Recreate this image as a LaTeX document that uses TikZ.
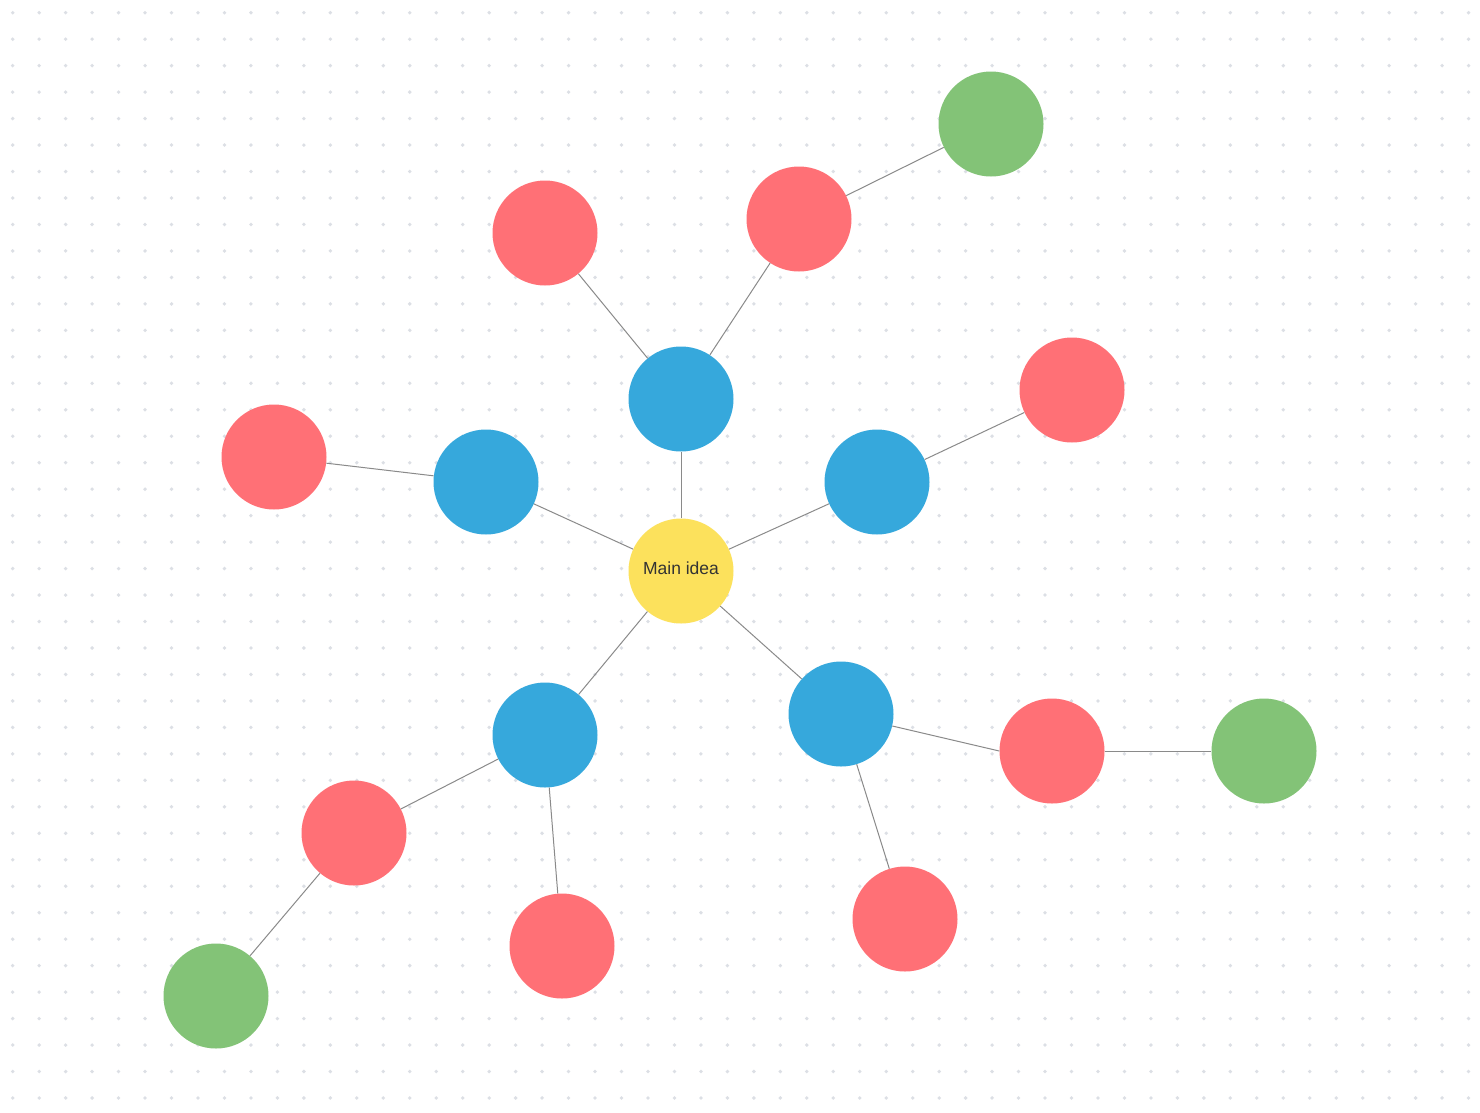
\documentclass[tikz,border=0pt]{standalone}
\usepackage{fontspec}
\setmainfont{Liberation Sans}
\definecolor{dotc}{HTML}{DCDFE5}
\definecolor{cyel}{HTML}{FCE15C}
\definecolor{cblu}{HTML}{36A8DC}
\definecolor{cred}{HTML}{FF7076}
\definecolor{cgrn}{HTML}{83C377}
\definecolor{edgec}{HTML}{8A8A8A}
\definecolor{txtc}{HTML}{333333}
\begin{document}
\begin{tikzpicture}[x=1pt,y=-1pt,
  bubble/.style={circle,minimum size=105pt,inner sep=0pt,draw=none},
  mainbub/.style={bubble,fill=cyel,text=txtc,font=\fontsize{17.5}{20}\selectfont},
  bluebub/.style={bubble,fill=cblu},
  redbub/.style={bubble,fill=cred},
  greenbub/.style={bubble,fill=cgrn},
  link/.style={draw=edgec,line width=1pt}]
\useasboundingbox (0,0) rectangle (1480,1112);
\fill[white] (0,0) rectangle (1480,1112);
\foreach \i in {0,...,55}{
  \foreach \j in {0,...,41}{
    \fill[dotc] ({12.7+26.47*\i},{12.7+26.47*\j}) circle (1.9);
  }
}
% nodes
\node[bluebub] (bt) at (681,399) {};
\node[bluebub] (bl) at (486,482) {};
\node[bluebub] (br) at (877,482) {};
\node[bluebub] (bbl) at (545,735) {};
\node[bluebub] (bbr) at (841,714) {};
\node[redbub] (r1) at (545,233) {};
\node[redbub] (r2) at (799,219) {};
\node[redbub] (r3) at (1072,390) {};
\node[redbub] (r4) at (274,457) {};
\node[redbub] (r5) at (1052,751) {};
\node[redbub] (r6) at (354,833) {};
\node[redbub] (r7) at (562,946) {};
\node[redbub] (r8) at (905,919) {};
\node[greenbub] (g1) at (991,124) {};
\node[greenbub] (g2) at (1264,751) {};
\node[greenbub] (g3) at (216,996) {};
\node[bubble,fill=cyel] (main) at (681,571) {};
\node[text=txtc,font=\fontsize{17.5}{20}\selectfont,inner sep=0pt] (maintxt) at (681,568) {Main idea};
% edges
\draw[link] (main) -- (bt);
\draw[link] (main) -- (bl);
\draw[link] (main) -- (br);
\draw[link] (main) -- (bbl);
\draw[link] (main) -- (bbr);
\draw[link] (bt) -- (r1);
\draw[link] (bt) -- (r2);
\draw[link] (r2) -- (g1);
\draw[link] (bl) -- (r4);
\draw[link] (br) -- (r3);
\draw[link] (bbl) -- (r6);
\draw[link] (bbl) -- (r7);
\draw[link] (r6) -- (g3);
\draw[link] (bbr) -- (r5.west);
\draw[link] (bbr) -- (r8);
\draw[link] (r5) -- (g2);
\end{tikzpicture}
\end{document}
